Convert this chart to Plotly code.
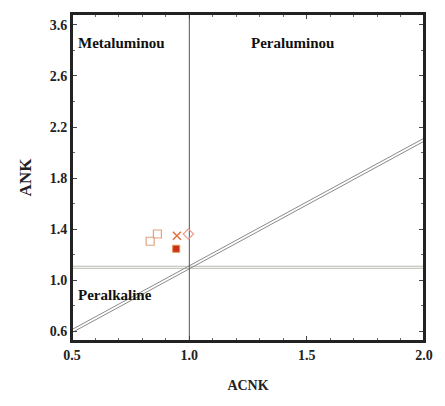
import plotly.graph_objects as go

# sample points (ACNK, ANK)
sq_x = [0.833, 0.864]
sq_y = [1.304, 1.361]
cross_x = [0.947]
cross_y = [1.348]
dia_x = [0.996]
dia_y = [1.361]
red_x = [0.944]
red_y = [1.245]

# boundary lines
vert_x = [1.0, 1.0]
vert_y = [0.522, 3.086]
horiz_x = [0.5, 2.0]
horiz_y = [1.1, 1.1]
diag_x = [0.5, 2.0]
diag_y = [0.6, 2.1]

y_tickvals = [0.6, 1.0, 1.4, 1.8, 2.2, 2.6, 3.0]
y_ticktext = ["0.6", "1.0", "1.4", "1.8", "2.2", "2.6", "3.6"]
x_tickvals = [0.5, 1.0, 1.5, 2.0]
x_ticktext = ["0.5", "1.0", "1.5", "2.0"]

font_family = "Liberation Serif"

fig = go.Figure()

# double horizontal line
for off in (-0.008, 0.008):
    fig.add_trace(go.Scatter(x=horiz_x, y=[v + off for v in horiz_y], mode="lines",
                             line=dict(color="#b8bcb0", width=1), showlegend=False, hoverinfo="skip"))
# double diagonal line
for off in (-0.012, 0.012):
    fig.add_trace(go.Scatter(x=diag_x, y=[v + off for v in diag_y], mode="lines",
                             line=dict(color="#8a8a8a", width=1), showlegend=False, hoverinfo="skip"))
# vertical line
fig.add_trace(go.Scatter(x=vert_x, y=vert_y, mode="lines",
                         line=dict(color="#555555", width=1), showlegend=False, hoverinfo="skip"))

fig.add_trace(go.Scatter(x=sq_x, y=sq_y, mode="markers",
                         marker=dict(symbol="square-open", size=8, color="#e0a27a", line=dict(width=1.2)),
                         showlegend=False))
fig.add_trace(go.Scatter(x=cross_x, y=cross_y, mode="markers",
                         marker=dict(symbol="x-thin-open", size=8, color="#e0703a", line=dict(width=1.5, color="#e0703a")),
                         showlegend=False))
fig.add_trace(go.Scatter(x=dia_x, y=dia_y, mode="markers",
                         marker=dict(symbol="diamond-open", size=8, color="#e8a090", line=dict(width=1.2)),
                         showlegend=False))
fig.add_trace(go.Scatter(x=red_x, y=red_y, mode="markers",
                         marker=dict(symbol="square", size=7, color="#c8321a", line=dict(width=1, color="#e8904a")),
                         showlegend=False))

label_font = dict(family=font_family, size=15, color="#111111", weight="bold")
fig.add_annotation(x=0.515, y=2.86, text="Metaluminou", showarrow=False, xanchor="left", font=label_font)
fig.add_annotation(x=1.44, y=2.86, text="Peraluminou", showarrow=False, xanchor="center", font=label_font)
fig.add_annotation(x=0.515, y=0.88, text="Peralkaline", showarrow=False, xanchor="left", font=label_font)

# plot frame
fig.add_shape(type="rect", xref="paper", yref="paper", x0=0, y0=0, x1=1, y1=1,
              line=dict(color="#222222", width=2), layer="above")

axis_common = dict(
    showline=True, linewidth=2, linecolor="#222222", mirror="allticks",
    ticks="inside", ticklen=5, tickwidth=1, tickcolor="#444444",
    showgrid=False, zeroline=False,
    tickfont=dict(family=font_family, size=14, color="#222222", weight="bold"),
)

fig.update_xaxes(range=[0.5, 2.0], tickvals=x_tickvals, ticktext=x_ticktext,
                 minor=dict(ticks="inside", ticklen=3, dtick=0.1, tickcolor="#666666", showgrid=False),
                 title=dict(text="ACNK", font=dict(family=font_family, size=14, color="#222222", weight="bold"), standoff=18),
                 **axis_common)
fig.update_yaxes(range=[0.522, 3.086], tickvals=y_tickvals, ticktext=y_ticktext,
                 minor=dict(ticks="inside", ticklen=3, dtick=0.2, tickcolor="#666666", showgrid=False),
                 title=dict(text="ANK", font=dict(family=font_family, size=17, color="#222222", weight="bold"), standoff=14),
                 **axis_common)

fig.update_layout(
    width=445, height=406,
    margin=dict(l=72, r=14, t=13, b=65),
    plot_bgcolor="white", paper_bgcolor="white",
)

fig.write_html("out.html")
